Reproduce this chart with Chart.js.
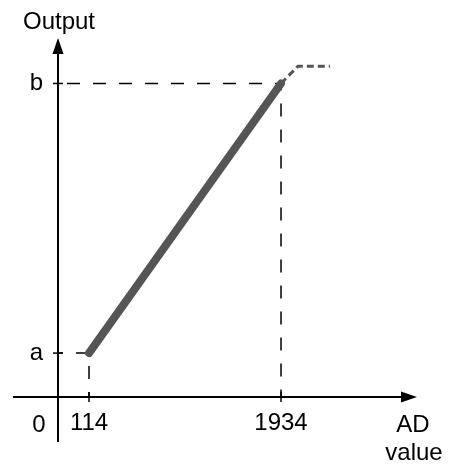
<!DOCTYPE html>
<html>
<head>
<meta charset="utf-8">
<script src="https://cdn.jsdelivr.net/npm/chart.js@4.4.1/dist/chart.umd.min.js"></script>
<style>
    html, body { margin: 0; padding: 0; background: #fff; }
</style>
</head>
<body>
<canvas id="adChart" width="453" height="467"></canvas>
<script>
(function () {
    // transfer line: AD value -> output
    var adRange = [114, 1934];
    var outputRange = [14, 100];          // a, b
    var xTickLabels = ['114', '1934'];
    var yTickLabels = ['a', 'b'];

    // saturation above b (dashed)
    var saturationX = [1934, 2095, 2398];
    var saturationY = [100, 105.5, 105.5];

    var xLimits = [-180, 3223];
    var yLimits = [0, 114.5];

    var FONT = '"Liberation Sans", Arial, sans-serif';
    var GREY = '#555555';

    function points(xs, ys) {
        return xs.map(function (x, i) {
            return { x: x, y: ys[i] };
        });
    }

    var axesPlugin = {
        id: 'axesPlugin',
        afterDraw: function (chart) {
            var ctx = chart.ctx;
            var area = chart.chartArea;
            var xs = chart.scales.x;
            var ys = chart.scales.y;
            var left = area.left, bottom = area.bottom;

            ctx.save();
            ctx.strokeStyle = '#000';
            ctx.fillStyle = '#000';
            ctx.lineWidth = 2;

            // y axis
            ctx.beginPath();
            ctx.moveTo(left, area.top + 10);
            ctx.lineTo(left, bottom + 45);
            ctx.stroke();
            ctx.beginPath();
            ctx.moveTo(left, area.top);
            ctx.lineTo(left - 5.5, area.top + 16);
            ctx.lineTo(left + 5.5, area.top + 16);
            ctx.closePath();
            ctx.fill();

            // x axis
            ctx.beginPath();
            ctx.moveTo(left - 45, bottom);
            ctx.lineTo(area.right - 10, bottom);
            ctx.stroke();
            ctx.beginPath();
            ctx.moveTo(area.right, bottom);
            ctx.lineTo(area.right - 16, bottom - 5.5);
            ctx.lineTo(area.right - 16, bottom + 5.5);
            ctx.closePath();
            ctx.fill();

            // tick marks
            ctx.lineWidth = 1.5;
            outputRange.forEach(function (v) {
                var py = ys.getPixelForValue(v);
                ctx.beginPath();
                ctx.moveTo(left - 5, py);
                ctx.lineTo(left + 5, py);
                ctx.stroke();
            });
            adRange.forEach(function (v) {
                var px = xs.getPixelForValue(v);
                ctx.beginPath();
                ctx.moveTo(px, bottom - 5);
                ctx.lineTo(px, bottom + 5);
                ctx.stroke();
            });

            // texts
            ctx.font = '24px ' + FONT;
            ctx.textBaseline = 'alphabetic';
            ctx.textAlign = 'center';
            ctx.fillText('0', left - 19, bottom + 35);
            ctx.fillText('Output', left + 1, area.top - 9);
            ctx.fillText('AD', area.right - 4, bottom + 35);
            ctx.fillText('value', area.right - 3, bottom + 63);
            ctx.restore();
        }
    };

    new Chart(document.getElementById('adChart'), {
        type: 'scatter',
        data: {
            datasets: [
                {
                    data: points(adRange, outputRange),
                    showLine: true,
                    borderColor: GREY,
                    borderWidth: 8,
                    borderCapStyle: 'round',
                    pointRadius: 0
                },
                {
                    data: points(saturationX, saturationY),
                    showLine: true,
                    borderColor: GREY,
                    borderWidth: 3,
                    borderDash: [7, 4],
                    pointRadius: 0
                },
                {
                    data: [
                        { x: xLimits[0], y: outputRange[1] },
                        { x: adRange[1], y: outputRange[1] },
                        { x: adRange[1], y: yLimits[0] }
                    ],
                    showLine: true,
                    borderColor: '#000',
                    borderWidth: 1.5,
                    borderDash: [13, 13],
                    borderDashOffset: 17,
                    pointRadius: 0
                },
                {
                    data: [
                        { x: xLimits[0], y: outputRange[0] },
                        { x: adRange[0], y: outputRange[0] },
                        { x: adRange[0], y: yLimits[0] }
                    ],
                    showLine: true,
                    borderColor: '#000',
                    borderWidth: 1.5,
                    borderDash: [13, 13],
                    borderDashOffset: 8,
                    pointRadius: 0
                }
            ]
        },
        options: {
            responsive: false,
            devicePixelRatio: 1,
            animation: false,
            clip: false,
            layout: {
                padding: { top: 38, right: 36, left: 0, bottom: 0 }
            },
            plugins: {
                legend: { display: false },
                tooltip: { enabled: false }
            },
            scales: {
                x: {
                    type: 'linear',
                    min: xLimits[0],
                    max: xLimits[1],
                    afterBuildTicks: function (scale) {
                        scale.ticks = adRange.map(function (v) { return { value: v }; });
                    },
                    afterFit: function (scale) {
                        scale.height = 70;
                    },
                    ticks: {
                        color: '#000',
                        padding: 12,
                        maxRotation: 0,
                        font: { family: FONT, size: 24 },
                        callback: function (value) {
                            var i = adRange.indexOf(value);
                            return i >= 0 ? xTickLabels[i] : '';
                        }
                    },
                    grid: { display: false, drawTicks: false },
                    border: { display: false }
                },
                y: {
                    type: 'linear',
                    min: yLimits[0],
                    max: yLimits[1],
                    afterBuildTicks: function (scale) {
                        scale.ticks = outputRange.map(function (v) { return { value: v }; });
                    },
                    afterFit: function (scale) {
                        scale.width = 58;
                    },
                    ticks: {
                        color: '#000',
                        padding: 15,
                        font: { family: FONT, size: 24 },
                        callback: function (value) {
                            var i = outputRange.indexOf(value);
                            return i >= 0 ? yTickLabels[i] : '';
                        }
                    },
                    grid: { display: false, drawTicks: false },
                    border: { display: false }
                }
            }
        },
        plugins: [axesPlugin]
    });
})();
</script>
</body>
</html>
